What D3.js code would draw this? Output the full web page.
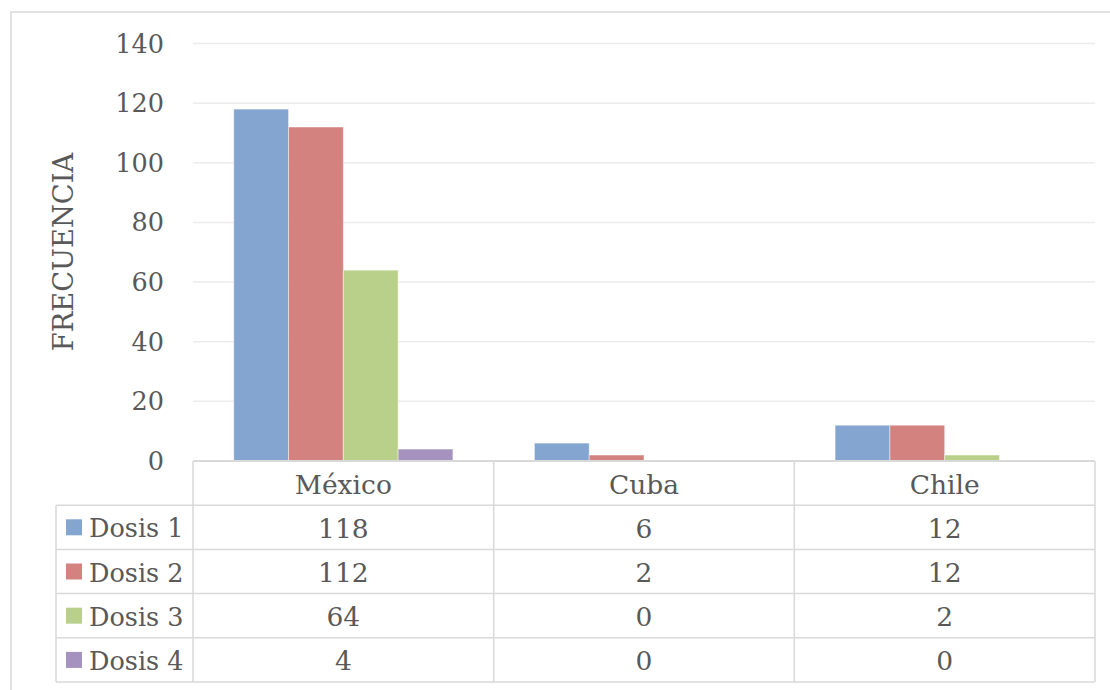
<!DOCTYPE html>
<html>
<head>
<meta charset="utf-8">
<script src="https://cdn.jsdelivr.net/npm/d3@7"></script>
<style>
  html, body { margin: 0; padding: 0; background: #fff; }
  svg { display: block; }
</style>
</head>
<body>
<script>
const categories = ["México", "Cuba", "Chile"];
const seriesNames = ["Dosis 1", "Dosis 2", "Dosis 3", "Dosis 4"];
const dosis1 = [118, 6, 12];
const dosis2 = [112, 2, 12];
const dosis3 = [64, 0, 2];
const dosis4 = [4, 0, 0];
const yTicks = [0, 20, 40, 60, 80, 100, 120, 140];
const colors = ["#83a5cf", "#d48280", "#b9d08b", "#a692be"];
const yTitle = "FRECUENCIA";

const seriesValues = [dosis1, dosis2, dosis3, dosis4];

const W = 1110, H = 690;
const plotLeft = 193, plotRight = 1095, plotTop = 43.5, plotBottom = 461;
const rowH = 44.2;
const legendLeft = 56;
const fontSize = 26.5;
const FONT = "'DejaVu Serif', serif";
const textColor = "#595959";
const gridColor = "#ececec";
const lineColor = "#d9d9d9";

const svg = d3.select("body").append("svg").attr("width", W).attr("height", H);

function txt(sel, size) {
  return sel.attr("font-family", FONT).attr("font-size", size || fontSize).attr("fill", textColor);
}

svg.append("rect").attr("x", 11).attr("y", 12).attr("width", W + 20).attr("height", H + 20)
  .attr("fill", "#fff").attr("stroke", lineColor).attr("stroke-width", 1.5);

const y = d3.scaleLinear().domain([0, 140]).range([plotBottom, plotTop]);
const x = d3.scaleBand().domain(categories).range([plotLeft, plotRight]).padding(0);
const x1 = d3.scaleBand().domain(seriesNames).range([0, x.bandwidth()]).paddingInner(0).paddingOuter(0.744);

svg.append("g").selectAll("line").data(yTicks.filter(d => d > 0)).join("line")
  .attr("x1", plotLeft).attr("x2", plotRight)
  .attr("y1", d => y(d)).attr("y2", d => y(d))
  .attr("stroke", gridColor).attr("stroke-width", 1.5);

txt(svg.append("g").selectAll("text").data(yTicks).join("text"), 25.5)
  .attr("x", 164).attr("y", d => y(d))
  .attr("text-anchor", "end").attr("dominant-baseline", "central")
  .text(d => d);

txt(svg.append("text"), 27.3)
  .attr("transform", `translate(63,252) rotate(-90)`)
  .attr("text-anchor", "middle").attr("dominant-baseline", "central")
  .text(yTitle);

const barData = [];
seriesNames.forEach((s, si) => {
  categories.forEach((c, ci) => {
    barData.push({ s, si, c, v: seriesValues[si][ci] });
  });
});
svg.append("g").selectAll("rect").data(barData.filter(d => d.v > 0)).join("rect")
  .attr("x", d => x(d.c) + x1(d.s))
  .attr("width", x1.bandwidth())
  .attr("y", d => y(d.v))
  .attr("height", d => y(0) - y(d.v))
  .attr("fill", d => colors[d.si])
  .attr("stroke", "rgba(255,255,255,0.45)").attr("stroke-width", 1);

const tableTop = plotBottom;
const tg = svg.append("g");
const nRows = seriesNames.length + 1;
for (let r = 0; r <= nRows; r++) {
  const yy = tableTop + r * rowH;
  tg.append("line")
    .attr("x1", r === 0 ? plotLeft : legendLeft).attr("x2", plotRight)
    .attr("y1", yy).attr("y2", yy)
    .attr("stroke", lineColor).attr("stroke-width", r === 0 ? 2 : 1.5);
}
const vx = [plotLeft, ...categories.map(c => x(c) + x.bandwidth())];
vx.forEach(xx => {
  tg.append("line").attr("x1", xx).attr("x2", xx)
    .attr("y1", tableTop).attr("y2", tableTop + nRows * rowH)
    .attr("stroke", lineColor).attr("stroke-width", 1.5);
});
tg.append("line").attr("x1", legendLeft).attr("x2", legendLeft)
  .attr("y1", tableTop + rowH).attr("y2", tableTop + nRows * rowH)
  .attr("stroke", lineColor).attr("stroke-width", 1.5);

txt(tg.selectAll("text.cat").data(categories).join("text").attr("class", "cat"))
  .attr("x", d => x(d) + x.bandwidth() / 2)
  .attr("y", tableTop + rowH / 2 + 1)
  .attr("text-anchor", "middle").attr("dominant-baseline", "central")
  .text(d => d);

seriesNames.forEach((s, si) => {
  const cy = tableTop + (si + 1) * rowH + rowH / 2;
  tg.append("rect").attr("x", 66).attr("y", cy - 8).attr("width", 16).attr("height", 16)
    .attr("fill", colors[si]);
  txt(tg.append("text"), 25.5).attr("x", 89).attr("y", cy + 1)
    .attr("dominant-baseline", "central")
    .text(s);
  categories.forEach((c, ci) => {
    txt(tg.append("text"))
      .attr("x", x(c) + x.bandwidth() / 2).attr("y", cy + 1)
      .attr("text-anchor", "middle").attr("dominant-baseline", "central")
      .text(seriesValues[si][ci]);
  });
});
</script>
</body>
</html>
